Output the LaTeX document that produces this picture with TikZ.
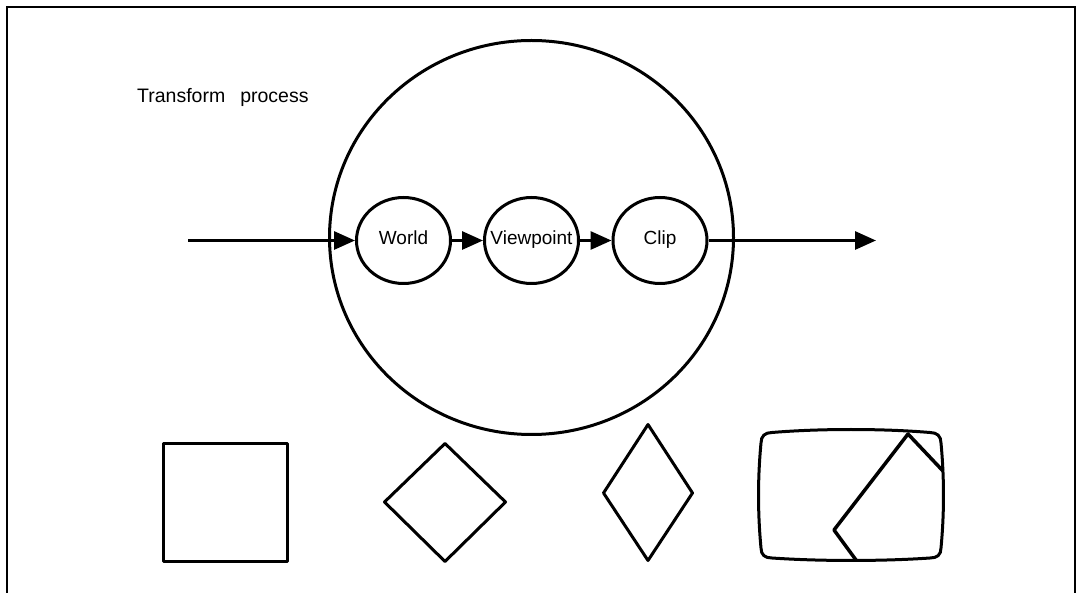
\documentclass[tikz,border=0pt]{standalone}
\usepackage{fontspec}
\setmainfont{Liberation Sans}
\usetikzlibrary{shapes.geometric,arrows.meta}
\begin{document}
\begin{tikzpicture}[x=1pt,y=-1pt,
  stage/.style={ellipse,draw,line width=3pt,minimum width=94pt,minimum height=86pt,inner sep=0pt,
    text height=13pt,text depth=4pt,font=\fontsize{19}{22}\selectfont},
  flow/.style={line width=3pt,-{Triangle[length=21pt,width=18pt]}},
  outline/.style={draw,line width=3pt,line join=round}]
\useasboundingbox (0,0) rectangle (1077,593);
% frame (open at bottom)
\draw[line width=2pt] (7,600) -- (7,7) -- (1075,7) -- (1075,600);
% title
\node[anchor=base west,inner sep=0pt,font=\fontsize{19.5}{23}\selectfont] (title) at (137,103) {Transform\hspace*{15pt}process};
% big circle
\node[ellipse,draw,line width=3pt,minimum width=404pt,minimum height=394pt,inner sep=0pt] (big) at (531.5,237.5) {};
% stages
\node[stage] (world) at (403.5,240.5) {\makebox[0pt]{World}};
\node[stage] (view) at (531.5,240.5) {\makebox[0pt]{Viewpoint}};
\node[stage] (clip) at (660,240.5) {\makebox[0pt]{Clip}};
\coordinate (in) at (188,240.5);
\coordinate (out) at (876,240.5);
\draw[flow] (in) -- (world.west);
\draw[flow] (world.east) -- (view.west);
\draw[flow] (view.east) -- (clip.west);
\draw[flow] (clip.east) -- (out);
% bottom shapes
\draw[outline] (163.5,443.5) rectangle (287.5,561.5);
\draw[outline] (445,443.5) -- (505.5,502) -- (445,561.5) -- (384.5,502) -- cycle;
\draw[outline] (648,424.5) -- (692.5,493) -- (648,560.5) -- (603.5,493) -- cycle;
% screen
\draw[outline]
  (772,432.5) .. controls (820,428.5) and (882,428.5) .. (930,432.5)
  .. controls (937,432.5) and (941,436) .. (941,443)
  .. controls (944.3,478) and (944.3,513) .. (941,548)
  .. controls (941,555) and (937,558) .. (930,558)
  .. controls (882,561.3) and (820,561.3) .. (772,558)
  .. controls (765,558) and (761,555) .. (761,548)
  .. controls (757.7,513) and (757.7,478) .. (761,443)
  .. controls (761,436) and (765,432.5) .. cycle;
\draw[line width=3.5pt,line join=round] (856,560) -- (834,530) -- (908,434) -- (943,471);
\end{tikzpicture}
\end{document}
